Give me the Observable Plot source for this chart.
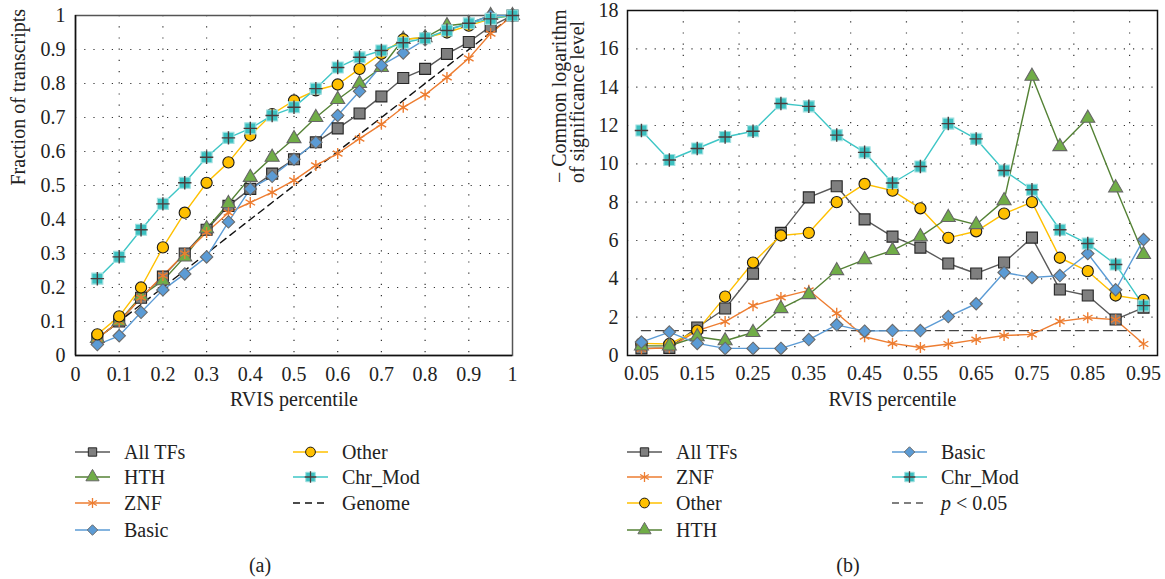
<!DOCTYPE html>
<html>
<head>
<meta charset="utf-8">
<script src="https://cdn.jsdelivr.net/npm/d3@7"></script>
<script src="https://cdn.jsdelivr.net/npm/@observablehq/plot@0.6"></script>
<style>
  body { margin: 0; background: white; }
  #wrap { position: relative; width: 1165px; height: 579px; font-family: "Liberation Serif", serif; }
  #wrap > * { position: absolute; }
  #wrap svg text { font-family: "Liberation Serif", serif; }
</style>
</head>
<body>
<div id="wrap"></div>
<script>
// ---------- DATA ----------
// Panel (a): cumulative fraction of transcripts vs RVIS percentile
const pctA = [0.05,0.10,0.15,0.20,0.25,0.30,0.35,0.40,0.45,0.50,0.55,0.60,0.65,0.70,0.75,0.80,0.85,0.90,0.95,1.00];
const allTFsA = [0.05,0.10,0.17,0.232,0.30,0.37,0.44,0.49,0.535,0.577,0.627,0.668,0.712,0.762,0.816,0.843,0.887,0.922,0.968,1.0];
const hthA    = [0.05,0.10,0.175,0.22,0.29,0.373,0.447,0.524,0.583,0.638,0.70,0.753,0.80,0.847,0.93,0.935,0.97,0.977,1.0,1.0];
const znfA    = [0.05,0.10,0.17,0.235,0.30,0.362,0.42,0.45,0.48,0.515,0.559,0.594,0.638,0.68,0.73,0.767,0.818,0.874,0.947,1.0];
const basicA  = [0.032,0.058,0.127,0.193,0.24,0.29,0.393,0.49,0.527,0.577,0.627,0.706,0.777,0.853,0.89,0.929,0.958,0.977,1.0,1.0];
const otherA  = [0.062,0.115,0.20,0.318,0.42,0.508,0.568,0.647,0.71,0.75,0.78,0.797,0.843,0.888,0.93,0.935,0.95,0.97,0.99,1.0];
const chrModA = [0.226,0.29,0.37,0.446,0.508,0.583,0.64,0.668,0.706,0.73,0.785,0.847,0.877,0.897,0.92,0.933,0.956,0.977,0.99,1.0];
const genomeA = [0.05,0.10,0.15,0.20,0.25,0.30,0.35,0.40,0.45,0.50,0.55,0.60,0.65,0.70,0.75,0.80,0.85,0.90,0.95,1.00];
const ticksA  = [0,0.1,0.2,0.3,0.4,0.5,0.6,0.7,0.8,0.9,1];

// Panel (b): -log10(p) vs RVIS percentile
const pctB = [0.05,0.10,0.15,0.20,0.25,0.30,0.35,0.40,0.45,0.50,0.55,0.60,0.65,0.70,0.75,0.80,0.85,0.90,0.95];
const allTFsB = [0.37,0.4,1.46,2.45,4.27,6.4,8.25,8.83,7.1,6.2,5.63,4.8,4.28,4.85,6.15,3.44,3.13,1.88,2.5];
const znfB    = [0.35,0.4,1.3,1.77,2.6,3.03,3.4,2.2,0.98,0.63,0.42,0.6,0.83,1.04,1.1,1.78,1.97,1.87,0.6];
const otherB  = [0.63,0.6,1.3,3.07,4.85,6.26,6.4,8.0,8.95,8.6,7.68,6.14,6.48,7.4,8.0,5.1,4.4,3.13,2.9];
const hthB    = [0.5,0.5,0.98,0.77,1.2,2.45,3.18,4.43,5.0,5.48,6.2,7.2,6.83,8.08,14.57,10.9,12.38,8.75,5.27];
const basicB  = [0.7,1.22,0.63,0.37,0.37,0.37,0.83,1.6,1.27,1.3,1.3,2.03,2.7,4.33,4.07,4.17,5.32,3.43,6.05];
const chrModB = [11.74,10.2,10.8,11.4,11.7,13.15,13.0,11.5,10.6,9.0,9.86,12.1,11.3,9.65,8.65,6.56,5.84,4.75,2.6];
const pThreshold = 1.3;
const xTicksB = [0.05,0.15,0.25,0.35,0.45,0.55,0.65,0.75,0.85,0.95];
const xGridB  = [0.125,0.225,0.325,0.425,0.525,0.625,0.725,0.825,0.925];
const yTicksB = [0,2,4,6,8,10,12,14,16,18];

// ---------- STYLES ----------
const FONT = '"Liberation Serif", serif';
const FS = 20;
const S = {
  "All TFs": {line:"#595959", fill:"#7f7f7f", stroke:"#262626", symbol:"square", r:6.2, legendSize:70},
  "HTH":     {line:"#548235", fill:"#70ad47", stroke:"#666666", symbol:"triangle", r:5.2, legendSize:75},
  "ZNF":     {line:"#ed7d31", fill:"none", stroke:"#ed7d31", symbol:"asterisk", r:5.2, legendSize:70},
  "Basic":   {line:"#5b9bd5", fill:"#5b9bd5", stroke:"#6a6a6a", symbol:"diamond2", r:5.6, legendSize:70},
  "Other":   {line:"#ffc000", fill:"#ffc000", stroke:"#1a1a1a", symbol:"circle", r:5.6, legendSize:75},
  "Chr_Mod": {line:"#3ec6c6", fill:"#3cc0c0", stroke:"#9fe0e0", symbol:"square", r:6.2, legendSize:90}
};
const PLUS_COLOR = "#4a3c3c";

function rows(name, xs, ys) { return xs.map((x, i) => ({x, y: ys[i], s: name})); }

function lineOnly(name, data) {
  return Plot.line(data, {x:"x", y:"y", stroke: S[name].line, strokeWidth: 1.4});
}
function dotsOnly(name, data) {
  const st = S[name];
  const m = [Plot.dot(data, {x:"x", y:"y", symbol: st.symbol, r: st.r, fill: st.fill, stroke: st.stroke, strokeWidth: st.symbol === "asterisk" ? 1.4 : 1.1})];
  if (name === "Chr_Mod") m.push(Plot.dot(data, {x:"x", y:"y", symbol:"plus", r:4.4, stroke: PLUS_COLOR, strokeWidth: 1.4}));
  return m;
}

const wrap = document.getElementById("wrap");

// ---------- PANEL A ----------
const seriesA = [
  ["All TFs", rows("All TFs", pctA, allTFsA)],
  ["HTH", rows("HTH", pctA, hthA)],
  ["ZNF", rows("ZNF", pctA, znfA)],
  ["Basic", rows("Basic", pctA, basicA)],
  ["Other", rows("Other", pctA, otherA)],
  ["Chr_Mod", rows("Chr_Mod", pctA, chrModA)]
];
const genomeRows = rows("Genome", pctA, genomeA);
const fmtA = d => String(+d.toFixed(2));
const gridValsA = ticksA.slice(1, -1);

const plotA = Plot.plot({
  width: 540, height: 420,
  marginLeft: 75, marginRight: 28, marginTop: 15, marginBottom: 65,
  style: {fontFamily: FONT, fontSize: FS + "px", color: "#222", background: "white"},
  x: {domain: [0, 1], ticks: ticksA, tickFormat: fmtA, tickSize: 0, tickPadding: 11, label: null},
  y: {domain: [0, 1], ticks: ticksA, tickFormat: fmtA, tickSize: 0, tickPadding: 10, label: null},
  marks: [
    Plot.ruleX(gridValsA, {stroke: "#333", strokeWidth: 1.2, strokeDasharray: "1.2,10"}),
    Plot.ruleY(gridValsA, {stroke: "#333", strokeWidth: 1.2, strokeDasharray: "1.2,8"}),
    Plot.frame({stroke: "#555", strokeWidth: 1.5}),
    Plot.ruleX([0], {stroke: "#111", strokeWidth: 1.5}),
    Plot.ruleY([0], {stroke: "#111", strokeWidth: 1.5}),
    Plot.line(genomeRows, {x: "x", y: "y", stroke: "#111", strokeWidth: 1.4, strokeDasharray: "7,5"}),
    ...seriesA.map(([n, d]) => lineOnly(n, d)),
    ...seriesA.flatMap(([n, d]) => dotsOnly(n, d)),
    Plot.text(["Fraction of transcripts"], {frameAnchor: "left", rotate: -90, dx: -57, fontSize: FS}),
    Plot.text(["RVIS percentile"], {frameAnchor: "bottom", dy: 50, fontSize: FS})
  ]
});
plotA.style.left = "0px"; plotA.style.top = "0px";
wrap.appendChild(plotA);

// ---------- PANEL B ----------
const seriesB = [
  ["All TFs", rows("All TFs", pctB, allTFsB)],
  ["ZNF", rows("ZNF", pctB, znfB)],
  ["Other", rows("Other", pctB, otherB)],
  ["HTH", rows("HTH", pctB, hthB)],
  ["Basic", rows("Basic", pctB, basicB)],
  ["Chr_Mod", rows("Chr_Mod", pctB, chrModB)]
];
const threshRows = [{x: pctB[0], y: pThreshold}, {x: pctB[pctB.length - 1], y: pThreshold}];

const plotB = Plot.plot({
  width: 625, height: 420,
  marginLeft: 87, marginRight: 8, marginTop: 10, marginBottom: 65,
  style: {fontFamily: FONT, fontSize: FS + "px", color: "#222", background: "white"},
  x: {domain: [0.025, 0.975], ticks: xTicksB, tickFormat: d => d.toFixed(2), tickSize: 0, tickPadding: 10, label: null},
  y: {domain: [0, 18], ticks: yTicksB, tickSize: 0, tickPadding: 9, label: null},
  marks: [
    Plot.ruleX(xGridB, {stroke: "#333", strokeWidth: 1.2, strokeDasharray: "1.2,10"}),
    Plot.ruleY(yTicksB.slice(1, -1), {stroke: "#333", strokeWidth: 1.2, strokeDasharray: "1.2,8"}),
    Plot.frame({stroke: "#111", strokeWidth: 1.5}),
    Plot.line(threshRows, {x: "x", y: "y", stroke: "#444", strokeWidth: 1.4, strokeDasharray: "9,5"}),
    ...seriesB.map(([n, d]) => lineOnly(n, d)),
    ...seriesB.flatMap(([n, d]) => dotsOnly(n, d)),
    Plot.text(["− Common logarithm\nof significance level"], {frameAnchor: "left", rotate: -90, dx: -58, fontSize: FS, lineHeight: 0.9}),
    Plot.text(["RVIS percentile"], {frameAnchor: "bottom", dy: 50, fontSize: FS})
  ]
});
plotB.style.left = "540px"; plotB.style.top = "0px";
wrap.appendChild(plotB);

// ---------- LEGENDS ----------
const legendA = [
  {name: "All TFs", col: 0, row: 0}, {name: "HTH", col: 0, row: 1},
  {name: "ZNF", col: 0, row: 2}, {name: "Basic", col: 0, row: 3},
  {name: "Other", col: 1, row: 0}, {name: "Chr_Mod", col: 1, row: 1},
  {name: "Genome", col: 1, row: 2, dashed: "#111"}
];
const legendB = [
  {name: "All TFs", col: 0, row: 0}, {name: "ZNF", col: 0, row: 1},
  {name: "Other", col: 0, row: 2}, {name: "HTH", col: 0, row: 3},
  {name: "Basic", col: 1, row: 0}, {name: "Chr_Mod", col: 1, row: 1},
  {name: "p < 0.05", col: 1, row: 2, dashed: "#555", italicP: true}
];
const symMap = {square: d3.symbolSquare, triangle: d3.symbolTriangle, circle: d3.symbolCircle, diamond2: d3.symbolDiamond2, asterisk: d3.symbolAsterisk};

const leg = d3.create("svg").attr("width", 1165).attr("height", 149)
  .style("left", "0px").style("top", "430px").style("font-family", FONT).style("font-size", FS + "px");
function drawLegend(items, colX, textOff) {
  const rowY = [22, 47, 73, 100];
  for (const it of items) {
    const x0 = colX[it.col], y = rowY[it.row];
    const g = leg.append("g");
    if (it.dashed) {
      g.append("line").attr("x1", x0).attr("x2", x0 + 35).attr("y1", y).attr("y2", y)
        .attr("stroke", it.dashed).attr("stroke-width", 1.4).attr("stroke-dasharray", "7,5");
    } else {
      const st = S[it.name];
      g.append("line").attr("x1", x0).attr("x2", x0 + 35).attr("y1", y).attr("y2", y)
        .attr("stroke", st.line).attr("stroke-width", 1.4);
      const p = g.append("path").attr("transform", `translate(${x0 + 17.5},${y})`)
        .attr("d", d3.symbol(symMap[st.symbol], st.legendSize)());
      if (st.symbol === "asterisk") p.attr("fill", "none").attr("stroke", st.stroke).attr("stroke-width", 1.3);
      else p.attr("fill", st.fill).attr("stroke", st.stroke).attr("stroke-width", 1);
      if (it.name === "Chr_Mod") {
        g.append("path").attr("transform", `translate(${x0 + 17.5},${y})`)
          .attr("d", d3.symbol(d3.symbolPlus, 45)()).attr("fill", "none").attr("stroke", PLUS_COLOR).attr("stroke-width", 1.3);
      }
    }
    const t = g.append("text").attr("x", x0 + textOff).attr("y", y).attr("dy", "0.35em").attr("fill", "#222");
    if (it.italicP) {
      t.append("tspan").attr("font-style", "italic").text("p");
      t.append("tspan").text(" < 0.05");
    } else t.text(it.name);
  }
}
drawLegend(legendA, [75, 293], 49);
drawLegend(legendB, [627, 892], 49);
leg.append("text").attr("x", 260).attr("y", 135).attr("text-anchor", "middle").attr("dy", "0.35em").attr("fill", "#222").text("(a)");
leg.append("text").attr("x", 848).attr("y", 135).attr("text-anchor", "middle").attr("dy", "0.35em").attr("fill", "#222").text("(b)");
wrap.appendChild(leg.node());
</script>
</body>
</html>
